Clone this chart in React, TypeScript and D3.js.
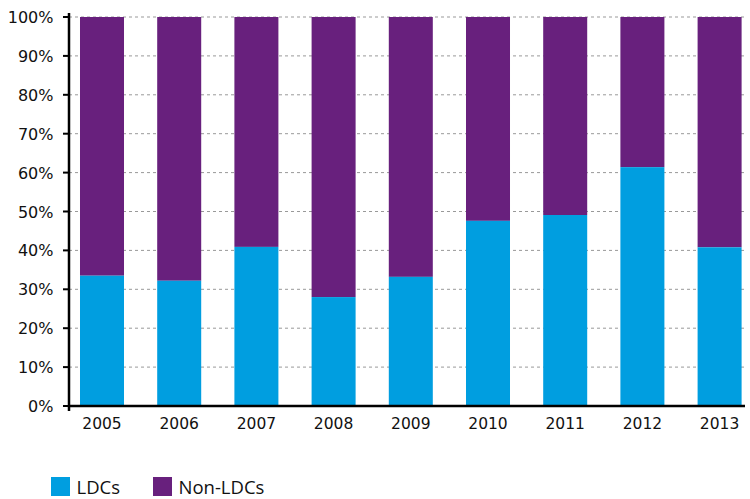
import React from "react";
import * as d3 from "d3";

const years = ["2005", "2006", "2007", "2008", "2009", "2010", "2011", "2012", "2013"];
const ldcs = [33.5, 32.2, 40.9, 28.0, 33.2, 47.6, 49.1, 61.4, 40.8];
const yTicks = [0, 10, 20, 30, 40, 50, 60, 70, 80, 90, 100];
const seriesNames = ["LDCs", "Non-LDCs"];
const colors = ["#009EE0", "#68207D"];

export default function App() {
  const W = 750, H = 499;
  const axisX = 69;
  const y = d3.scaleLinear().domain([0, 100]).range([406, 17]);
  const x = d3.scaleBand().domain(years).range([63.4, 758.2]).paddingInner(0.43).paddingOuter(0.215);
  const axisFont = "'DejaVu Sans', sans-serif";
  const legendFont = "'Open Sans', 'DejaVu Sans', sans-serif";
  return (
    <svg width={W} height={H} style={{ position: "absolute", left: 0, top: 0 }}>
      {yTicks.map((t) => (
        <g key={t}>
          {t > 0 && (
            <line x1={axisX} x2={745} y1={y(t)} y2={y(t)} stroke="#999" strokeWidth={1} strokeDasharray="3,3" />
          )}
          <line x1={63} x2={axisX} y1={y(t)} y2={y(t)} stroke="#000" strokeWidth={2} />
          <text x={53.5} y={y(t) + 6} textAnchor="end" fontSize={16} fontFamily={axisFont} fill="#111">{t}%</text>
        </g>
      ))}
      {years.map((yr, i) => (
        <g key={yr}>
          <rect x={x(yr)} width={x.bandwidth()} y={y(100)} height={y(ldcs[i]) - y(100)} fill={colors[1]} />
          <rect x={x(yr)} width={x.bandwidth()} y={y(ldcs[i])} height={y(0) - y(ldcs[i])} fill={colors[0]} />
          <text x={(x(yr) as number) + x.bandwidth() / 2} y={429.3} textAnchor="middle" fontSize={15.5} fontFamily={axisFont} fill="#111">{yr}</text>
        </g>
      ))}
      <line x1={axisX} x2={axisX} y1={13} y2={411} stroke="#000" strokeWidth={2.5} />
      <line x1={axisX - 1} x2={745} y1={406} y2={406} stroke="#000" strokeWidth={2.5} />
      {seriesNames.map((n, i) => (
        <g key={n} transform={`translate(${[51, 153][i]},477)`}>
          <rect width={19} height={19} fill={colors[i]} />
          <text x={25.5} y={17} fontSize={18.5} fontFamily={legendFont} fill="#111">{n}</text>
        </g>
      ))}
    </svg>
  );
}
